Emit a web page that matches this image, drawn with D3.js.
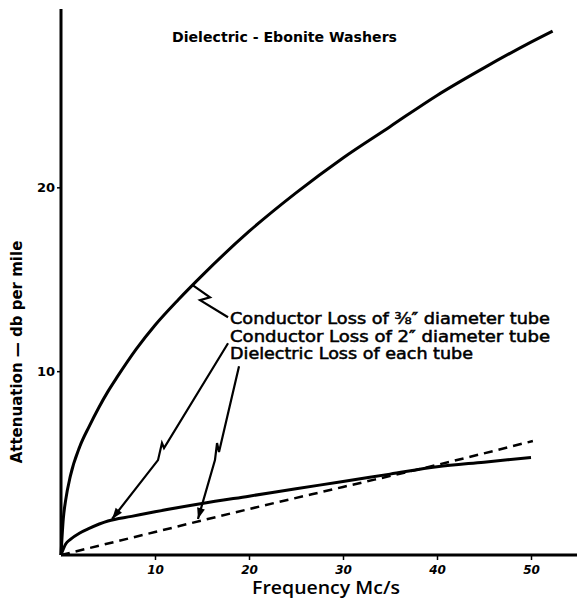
<!DOCTYPE html>
<html>
<head>
<meta charset="utf-8">
<script src="https://cdn.jsdelivr.net/npm/d3@7"></script>
<style>
  body { margin: 0; background: #fff; }
  svg text { font-family: "DejaVu Sans", sans-serif; fill: #000; }
</style>
</head>
<body>
<div id="chart"></div>
<script>
// frequency (Mc/s) and attenuation (db per mile)
const freqUpper = [0, 0.25, 0.5, 1, 2, 3, 4, 5, 6, 8, 10, 12.5, 15, 20, 25, 30, 35, 40, 45, 50, 52.3];
const lossUpper = [0, 2.0, 3.0, 4.3, 5.9, 7.0, 8.0, 8.9, 9.7, 11.2, 12.5, 13.9, 15.2, 17.6, 19.7, 21.6, 23.3, 25.0, 26.5, 27.9, 28.5];

const freqLower = [0, 0.5, 1, 2, 3, 5, 7.5, 10, 15, 20, 25, 30, 35, 40, 45, 50];
const lossLower = [0, 0.6, 0.85, 1.2, 1.45, 1.85, 2.1, 2.35, 2.8, 3.2, 3.6, 4.0, 4.4, 4.8, 5.05, 5.3];

const freqDiel = [0, 10, 20, 30, 40, 50.2];
const lossDiel = [0, 1.25, 2.5, 3.7, 4.9, 6.2];

const xTicks = [10, 20, 30, 40, 50];
const yTicks = [10, 20];

const labelLines = [
  "Conductor Loss of \u215C\u2033 diameter tube",
  "Conductor Loss of 2\u2033 diameter tube",
  "Dielectric Loss of each tube"
];

// lightning-bolt pointers, in data units
const arrow1 = [[14.04, 14.67], [15.85, 14.02], [14.79, 13.86], [17.77, 12.93]];
const arrow2 = [[17.77, 11.52], [10.96, 5.82], [10.74, 6.09], [10.32, 5.16], [5.43, 1.96]];
const arrow3 = [[18.94, 10.27], [16.81, 5.60], [16.60, 6.09], [16.38, 5.16], [14.57, 1.96]];

const width = 577, height = 602;

const svg = d3.select("#chart").append("svg")
  .attr("width", width)
  .attr("height", height);

const x = d3.scaleLinear().domain([0, 55]).range([61, 578]);
const y = d3.scaleLinear().domain([0, 29.7]).range([555, 9]);

// axes
const xAxis = svg.append("g")
  .attr("transform", `translate(0,${y(0)})`)
  .call(d3.axisBottom(x).tickValues(xTicks).tickSize(5).tickPadding(5));
xAxis.select(".domain").attr("stroke-width", 3).attr("d", `M${x(0)},0H${x(55)}`);
xAxis.selectAll(".tick line").attr("stroke-width", 1.5);
xAxis.selectAll(".tick text")
  .style("font-family", "DejaVu Sans")
  .style("font-size", "12px")
  .style("font-weight", "bold")
  .style("font-style", "italic");

const yAxis = svg.append("g")
  .attr("transform", `translate(${x(0)},0)`)
  .call(d3.axisLeft(y).tickValues(yTicks).tickSize(4).tickPadding(2));
yAxis.select(".domain").attr("stroke-width", 3).attr("d", `M0,${y(0)}V${y(29.7)}`);
yAxis.selectAll(".tick line").attr("stroke-width", 1.5);
yAxis.selectAll(".tick text")
  .style("font-family", "DejaVu Sans")
  .style("font-size", "13px")
  .style("font-weight", "bold");

// curves
const line = d3.line()
  .x(d => x(d[0]))
  .y(d => y(d[1]))
  .curve(d3.curveMonotoneX);

svg.append("path")
  .datum(d3.zip(freqUpper, lossUpper))
  .attr("d", line)
  .attr("fill", "none")
  .attr("stroke", "#000")
  .attr("stroke-width", 3);

svg.append("path")
  .datum(d3.zip(freqLower, lossLower))
  .attr("d", line)
  .attr("fill", "none")
  .attr("stroke", "#000")
  .attr("stroke-width", 3);

svg.append("path")
  .datum(d3.zip(freqDiel, lossDiel))
  .attr("d", line)
  .attr("fill", "none")
  .attr("stroke", "#000")
  .attr("stroke-width", 2.5)
  .attr("stroke-dasharray", "9,6");

// pointers
const straight = d3.line().x(d => x(d[0])).y(d => y(d[1]));
[arrow1, arrow2, arrow3].forEach(pts => {
  svg.append("path")
    .attr("d", straight(pts))
    .attr("fill", "none")
    .attr("stroke", "#000")
    .attr("stroke-width", 2.2)
    .attr("stroke-linejoin", "miter");
});

// arrow heads on the two lower pointers
[arrow2, arrow3].forEach(pts => {
  const a = pts[pts.length - 2], b = pts[pts.length - 1];
  const ax = x(a[0]), ay = y(a[1]), bx = x(b[0]), by = y(b[1]);
  const ang = Math.atan2(by - ay, bx - ax);
  const len = 11, half = 4;
  const p1 = [bx - len * Math.cos(ang) + half * Math.sin(ang), by - len * Math.sin(ang) - half * Math.cos(ang)];
  const p2 = [bx - len * Math.cos(ang) - half * Math.sin(ang), by - len * Math.sin(ang) + half * Math.cos(ang)];
  svg.append("path")
    .attr("d", `M${bx},${by}L${p1[0]},${p1[1]}L${p2[0]},${p2[1]}Z`)
    .attr("fill", "#000");
});

// label block
svg.selectAll(".lbl")
  .data(labelLines)
  .enter().append("text")
  .attr("class", "lbl")
  .attr("x", 230)
  .attr("y", (d, i) => 324 + i * 17.6)
  .attr("textLength", (d, i) => [320, 320, 243][i])
  .attr("lengthAdjust", "spacingAndGlyphs")
  .style("font-size", "15px")
  .attr("stroke", "#000")
  .attr("stroke-width", 0.5)
  .text(d => d);

// title
svg.append("text")
  .attr("x", 172)
  .attr("y", 42)
  .attr("textLength", 225)
  .attr("lengthAdjust", "spacingAndGlyphs")
  .style("font-size", "14px")
  .style("font-weight", "bold")
  .text("Dielectric  -  Ebonite Washers");

// axis titles
svg.append("text")
  .attr("x", 252)
  .attr("y", 594)
  .attr("textLength", 148)
  .attr("lengthAdjust", "spacingAndGlyphs")
  .style("font-family", "'Open Sans', sans-serif")
  .style("font-size", "18px")
  .style("font-weight", "600")
  .text("Frequency  Mc/s");

svg.append("text")
  .attr("transform", "translate(22,352) rotate(-90)")
  .attr("text-anchor", "middle")
  .style("font-size", "15px")
  .style("font-weight", "bold")
  .text("Attenuation \u2014 db per mile");
</script>
</body>
</html>
